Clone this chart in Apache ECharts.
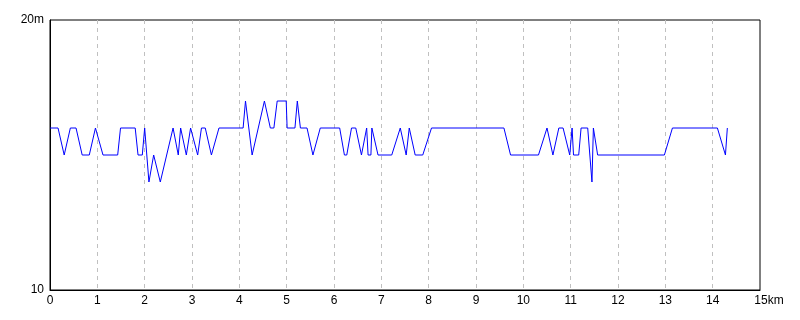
<!DOCTYPE html>
<html>
<head>
<meta charset="utf-8">
<script src="https://cdn.jsdelivr.net/npm/echarts@6/dist/echarts.min.js"></script>
<style>html,body{margin:0;padding:0;background:#fff;}#c{width:800px;height:320px;}</style>
</head>
<body>
<div id="c"></div>
<script>
const distanceKm = [0,0.17,0.30,0.43,0.55,0.68,0.83,0.96,1.12,1.43,1.49,1.80,1.86,1.95,2.00,2.09,2.19,2.33,2.60,2.71,2.76,2.88,2.97,3.12,3.20,3.28,3.41,3.57,4.08,4.13,4.27,4.53,4.655,4.73,4.80,4.99,5.01,5.175,5.225,5.29,5.43,5.555,5.71,6.12,6.22,6.27,6.37,6.46,6.58,6.69,6.72,6.78,6.80,6.93,7.22,7.40,7.525,7.59,7.715,7.875,8.06,9.59,9.73,10.32,10.50,10.625,10.75,10.84,10.98,11.03,11.06,11.17,11.22,11.36,11.45,11.48,11.57,12.98,13.15,14.10,14.27,14.31];
const elevationM = [16,16,15,16,16,15,15,16,15,15,16,16,15,15,16,14,15,14,16,15,16,15,16,15,16,16,15,16,16,17,15,17,16,16,17,17,16,16,17,16,16,15,16,16,15,15,16,16,15,16,15,15,16,15,15,16,15,16,15,15,16,16,15,15,16,15,16,16,15,16,15,15,16,16,14,16,15,15,16,16,15,16];
const xTicks = [0,1,2,3,4,5,6,7,8,9,10,11,12,13,14,15];
const yTickLabels = {10:'10', 20:'20m'};

const points = distanceKm.map((d,i)=>[d, elevationM[i]]);
const chart = echarts.init(document.getElementById('c'), null, {renderer:'canvas'});
const font = {fontFamily:'"Liberation Sans", sans-serif', fontSize:12, color:'#000'};
chart.setOption({
  animation:false,
  backgroundColor:'#fff',
  grid:{left:50, right:40, top:20, bottom:30, show:true, borderColor:'#000', borderWidth:1, backgroundColor:'transparent'},
  xAxis:{
    type:'value', min:xTicks[0], max:xTicks[xTicks.length-1], interval:1,
    axisLine:{show:true, lineStyle:{color:'#000', width:1}},
    axisTick:{show:false},
    splitLine:{show:true, showMinLine:false, showMaxLine:false, lineStyle:{color:'#c0c0c0', type:[4,4], width:1}},
    axisLabel:Object.assign({}, font, {margin:5,
      formatter:v => v===15 ? '{k|15km}' : String(v),
      rich:{k:Object.assign({}, font, {padding:[0,0,0,18]})}
    })
  },
  yAxis:{
    type:'value', min:10, max:20, interval:10,
    axisLine:{show:true, lineStyle:{color:'#000', width:1}},
    axisTick:{show:false},
    splitLine:{show:false},
    axisLabel:Object.assign({}, font, {margin:6, formatter:v => yTickLabels[v] || ''})
  },
  series:[{
    type:'line', data:points, showSymbol:false, symbol:'none',
    lineStyle:{color:'#0000ff', width:1}, itemStyle:{color:'#0000ff'}
  }]
});
</script>
</body>
</html>
